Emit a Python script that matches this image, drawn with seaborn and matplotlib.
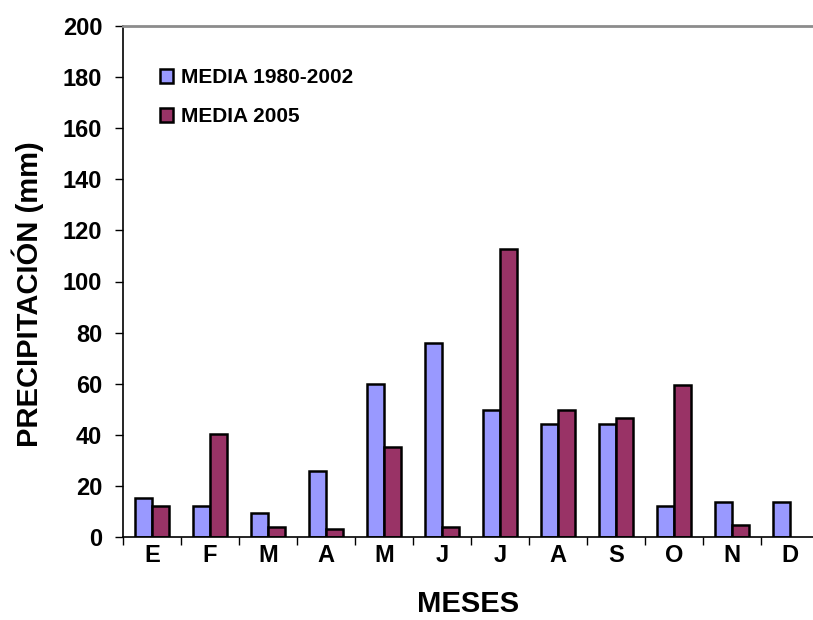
import numpy as np
import pandas as pd
import matplotlib
matplotlib.use("Agg")
import matplotlib.pyplot as plt
import seaborn as sns

# Monthly precipitation (mm)
meses = ["E", "F", "M", "A", "M", "J", "J", "A", "S", "O", "N", "D"]
media_1980_2002 = [15.1, 12.0, 9.5, 25.8, 60.0, 76.0, 49.7, 44.3, 44.3, 12.0, 13.6, 13.6]
media_2005 = [12.0, 40.2, 3.9, 3.1, 35.3, 3.9, 112.7, 49.7, 46.6, 59.5, 4.8, np.nan]
series_names = ["MEDIA 1980-2002", "MEDIA 2005"]
colores = ["#9999FF", "#993366"]
y_ticks = list(range(0, 201, 20))

sns.set_theme(style="white")
plt.rcParams["font.family"] = ["Liberation Sans", "DejaVu Sans"]
plt.rcParams["font.weight"] = "bold"
for key in ["text.color", "axes.labelcolor", "xtick.color", "ytick.color"]:
    plt.rcParams[key] = "black"

mes_idx = list(range(len(meses)))
df = pd.DataFrame({
    "mes": mes_idx * 2,
    "serie": [series_names[0]] * len(meses) + [series_names[1]] * len(meses),
    "precip": media_1980_2002 + media_2005,
})

fig = plt.figure(figsize=(8.13, 6.2), dpi=100)
ax = fig.add_axes([123 / 813, 83 / 620, 696 / 813, 511 / 620])

sns.barplot(
    data=df, x="mes", y="precip", hue="serie", hue_order=series_names,
    order=mes_idx, palette=colores, width=0.6, gap=0,
    edgecolor="black", linewidth=1.8, saturation=1, errorbar=None, ax=ax,
)

ax.set_xlim(-0.5, len(meses) - 0.5)
ax.set_ylim(0, 200)
ax.set_yticks(y_ticks)
ax.set_xticks(mes_idx)
ax.set_xticklabels(meses)
ax.set_xticks(np.arange(-0.5, len(meses), 1.0), minor=True)

ax.tick_params(axis="y", which="major", direction="out", length=6, width=1,
               color="black", pad=9, labelsize=17, left=True)
ax.tick_params(axis="x", which="major", length=0, pad=5, labelsize=17)
ax.tick_params(axis="x", which="minor", direction="out", length=6, width=1,
               color="black", bottom=True)
for lbl in ax.get_xticklabels() + ax.get_yticklabels():
    lbl.set_fontweight("bold")
    lbl.set_color("black")

for side in ["left", "bottom"]:
    ax.spines[side].set_color("black")
    ax.spines[side].set_linewidth(1.2)
ax.spines["top"].set_color("#8c8c8c")
ax.spines["top"].set_linewidth(2)
ax.spines["right"].set_visible(False)

ax.set_xlabel("MESES", fontsize=21, fontweight="bold", color="black")
ax.set_ylabel("PRECIPITACIÓN (mm)", fontsize=21, fontweight="bold", color="black")
ax.xaxis.set_label_coords(0.4957, -0.104)
ax.yaxis.set_label_coords(-0.113, 0.475)

handles, labels = ax.get_legend_handles_labels()
ax.legend(
    handles, labels, loc="upper left", bbox_to_anchor=(0.053, 0.917),
    frameon=False, prop={"weight": "bold", "size": 15},
    handlelength=0.65, handleheight=0.65, handletextpad=0.35,
    labelspacing=0.95, borderpad=0, borderaxespad=0,
)

fig.savefig("out.png", dpi=100)
